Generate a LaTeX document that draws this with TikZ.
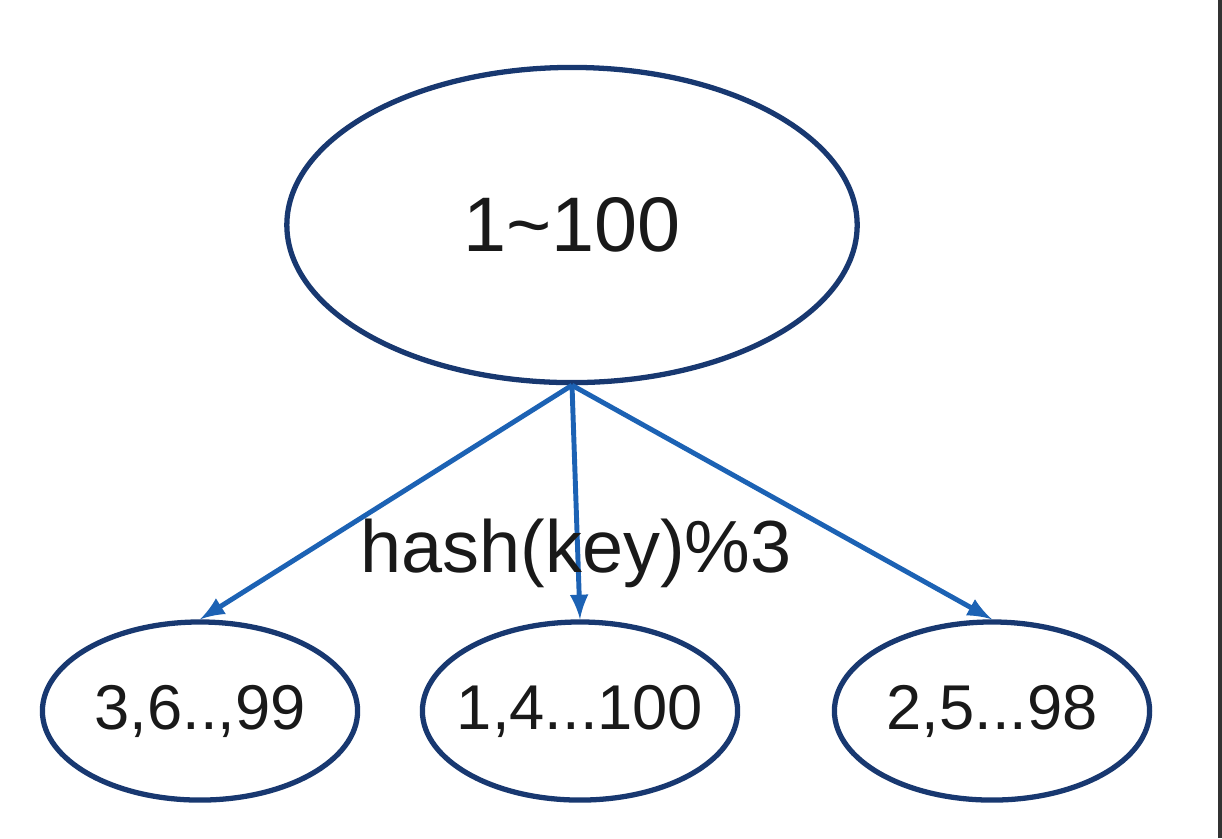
\documentclass[tikz,border=0pt]{standalone}
\usepackage{fontspec}
\setmainfont{Liberation Sans}
\usepackage{tikz}
\usetikzlibrary{shapes.geometric}
\definecolor{ovalblue}{RGB}{24,56,112}
\definecolor{arrowblue}{RGB}{28,98,180}
\definecolor{textgray}{RGB}{25,25,25}

\begin{document}
\begin{tikzpicture}[x=0.01cm, y=-0.01cm,
    oval/.style={ellipse, draw=ovalblue, line width=1.5pt, inner sep=0pt, text=textgray},
    big/.style={oval, minimum width=5.7cm, minimum height=3.15cm, font=\fontsize{22}{26}\selectfont},
    small/.style={oval, inner xsep=-0.15cm, minimum width=3.15cm, minimum height=1.78cm, font=\fontsize{18}{22}\selectfont},
    link/.style={->, line width=1.4pt, arrowblue, -latex}]
                    \useasboundingbox (0,0) rectangle (1222,838);
                    \draw[line width=1.2pt, black!80] (1220,0) -- (1220,838);
                    \node[big] (all) at (572,225) {1\char`\~100};
                    \node[small] (mod0) at (200,711) {3,6..,99};
                    \node[small] (mod1) at (580,711) {1,4...100};
                    \node[small] (mod2) at (992,711) {2,5...98};
                    \draw[link] (all.south) -- (mod0.north);
                    \draw[link] (all.south) -- (mod1.north);
                    \draw[link] (all.south) -- (mod2.north);
                    \node[text=textgray, font=\fontsize{21}{25}\selectfont] (rule) at (576,553) {hash(key)\%3};
                \end{tikzpicture}
\end{document}
